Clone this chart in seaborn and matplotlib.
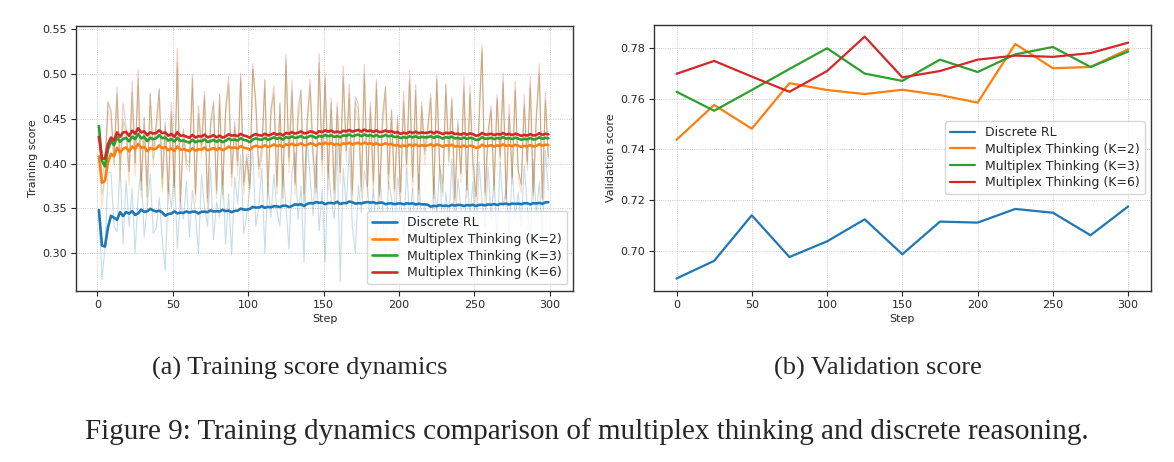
import numpy as np
import pandas as pd
import matplotlib
matplotlib.use("Agg")
import matplotlib.pyplot as plt
import seaborn as sns

# -----------------------------
# Data
# -----------------------------
train_steps = np.arange(1, 301, 2)

# raw training scores (x1000), one value every 2 steps
discrete_raw = [
    348, 270, 305, 390, 390, 330, 324, 400, 310, 381,
    330, 372, 300, 365, 395, 318, 352, 388, 322, 328,
    362, 315, 280, 378, 350, 392, 305, 360, 338, 380,
    318, 370, 345, 300, 388, 352, 330, 395, 315, 357,
    340, 392, 310, 366, 298, 385, 355, 410, 322, 342,
    372, 418, 330, 352, 395, 300, 378, 340, 388, 347,
    330, 398, 352, 305, 390, 412, 338, 375, 290, 430,
    385, 342, 410, 325, 372, 290, 398, 360, 338, 420,
    268, 395, 352, 418, 330, 300, 376, 345, 392, 374,
    335, 372, 310, 388, 352, 298, 380, 362, 318, 385,
    360, 318, 395, 340, 372, 305, 388, 330, 352, 340,
    272, 385, 342, 398, 315, 368, 330, 405, 322, 383,
    350, 312, 392, 340, 380, 300, 402, 358, 330, 396,
    338, 385, 310, 402, 352, 372, 318, 395, 340, 368,
    330, 398, 352, 310, 405, 342, 380, 318, 415, 370,
]
k2_raw = [
    408, 350, 385, 460, 447, 395, 470, 380, 445, 430,
    376, 471, 386, 486, 361, 436, 354, 464, 396, 430,
    473, 368, 438, 355, 453, 363, 513, 347, 425, 395,
    391, 484, 356, 451, 406, 471, 346, 438, 456, 361,
    467, 360, 452, 484, 374, 437, 387, 492, 365, 402,
    368, 506, 461, 384, 406, 484, 360, 451, 474, 366,
    455, 355, 510, 390, 475, 365, 445, 470, 350, 435,
    480, 395, 360, 505, 385, 487, 370, 460, 353, 455,
    377, 490, 402, 472, 352, 462, 447, 362, 494, 362,
    456, 363, 483, 350, 438, 473, 370, 448, 356, 443,
    356, 463, 388, 488, 368, 476, 353, 458, 398, 432,
    468, 350, 490, 383, 363, 478, 398, 463, 348, 439,
    379, 481, 361, 474, 389, 353, 439, 534, 354, 426,
    457, 362, 470, 397, 488, 352, 452, 377, 480, 385,
    367, 462, 392, 484, 354, 447, 497, 352, 467, 398,
]
k3_raw = [
    442, 365, 385, 470, 460, 400, 478, 392, 450, 438,
    391, 480, 401, 495, 370, 452, 363, 479, 405, 445,
    484, 373, 443, 366, 458, 374, 507, 358, 436, 400,
    396, 495, 367, 456, 417, 476, 357, 443, 467, 366,
    478, 365, 463, 489, 385, 442, 398, 497, 376, 407,
    372, 505, 471, 394, 410, 494, 364, 461, 478, 376,
    467, 361, 516, 402, 481, 377, 451, 482, 356, 447,
    488, 409, 368, 513, 399, 495, 384, 468, 367, 463,
    390, 497, 415, 479, 365, 469, 460, 369, 501, 375,
    463, 376, 490, 363, 445, 486, 377, 461, 369, 450,
    368, 469, 400, 494, 380, 482, 365, 464, 410, 438,
    473, 361, 495, 394, 368, 489, 403, 474, 359, 444,
    389, 485, 371, 478, 399, 363, 443, 530, 364, 436,
    460, 371, 473, 406, 491, 361, 455, 386, 483, 394,
    377, 466, 402, 488, 364, 451, 501, 362, 471, 408,
]
k6_raw = [
    430, 382, 405, 468, 457, 410, 485, 400, 468, 441,
    391, 492, 400, 505, 381, 451, 375, 478, 415, 444,
    483, 384, 447, 369, 468, 373, 529, 356, 439, 404,
    401, 500, 365, 465, 421, 481, 362, 447, 470, 370,
    477, 376, 461, 498, 389, 447, 403, 501, 379, 411,
    377, 512, 469, 397, 420, 493, 375, 459, 487, 374,
    468, 374, 522, 407, 493, 378, 464, 482, 367, 447,
    494, 415, 373, 523, 404, 501, 390, 473, 371, 468,
    390, 509, 414, 489, 370, 475, 466, 374, 511, 374,
    468, 381, 494, 366, 455, 485, 388, 459, 372, 454,
    368, 481, 399, 504, 385, 488, 371, 469, 414, 443,
    478, 366, 499, 397, 378, 488, 414, 472, 362, 448,
    389, 497, 370, 488, 404, 363, 455, 525, 368, 435,
    465, 376, 477, 409, 501, 360, 466, 384, 492, 392,
    376, 477, 400, 497, 368, 456, 512, 360, 480, 406,
]

val_steps = [0, 25, 50, 75, 100, 125, 150, 175, 200, 225, 250, 275, 300]
discrete_val = [0.689, 0.696, 0.714, 0.6975, 0.7037, 0.7124, 0.6986, 0.7115,
                0.7111, 0.7165, 0.7150, 0.7061, 0.7175]
k2_val = [0.7438, 0.7576, 0.7482, 0.7662, 0.7635, 0.7619, 0.7636, 0.7615,
          0.7585, 0.7817, 0.7721, 0.7726, 0.7796]
k3_val = [0.7628, 0.7553, 0.7635, 0.7718, 0.7800, 0.7700, 0.7671, 0.7755,
          0.7706, 0.7776, 0.7805, 0.7726, 0.7787]
k6_val = [0.7699, 0.7750, 0.7688, 0.7628, 0.7710, 0.7846, 0.7685, 0.7710,
          0.7755, 0.7771, 0.7766, 0.7781, 0.7822]

labels = ["Discrete RL", "Multiplex Thinking (K=2)",
          "Multiplex Thinking (K=3)", "Multiplex Thinking (K=6)"]
colors = ["#1f77b4", "#ff7f0e", "#2ca02c", "#d62728"]

# -----------------------------
# Style
# -----------------------------
sns.set_theme(style="ticks")
plt.rcParams["font.family"] = ["DejaVu Sans"]
plt.rcParams["axes.edgecolor"] = "#333333"
plt.rcParams["axes.linewidth"] = 1.0

fig = plt.figure(figsize=(11.74, 4.62), dpi=100)
ax1 = fig.add_axes([0.065, 0.3708, 0.4233, 0.5729])
ax2 = fig.add_axes([0.557, 0.3708, 0.4232, 0.5757])

# -----------------------------
# (a) Training score dynamics
# -----------------------------
raw_series = [discrete_raw, k2_raw, k3_raw, k6_raw]
for raw, lab, col in zip(raw_series, labels, colors):
    y = pd.Series(raw) / 1000.0
    sns.lineplot(x=train_steps, y=y.values, ax=ax1, color=col, alpha=0.25,
                 linewidth=0.8, errorbar=None)
for raw, lab, col in zip(raw_series, labels, colors):
    y = pd.Series(raw) / 1000.0
    smooth = y.ewm(alpha=0.025, adjust=True).mean()
    sns.lineplot(x=train_steps, y=smooth.values, ax=ax1, color=col,
                 linewidth=1.9, label=lab, errorbar=None)

ax1.set_xlim(-14, 315.5)
ax1.set_ylim(0.258, 0.5537)
ax1.set_yticks([0.30, 0.35, 0.40, 0.45, 0.50, 0.55])
ax1.set_xticks([0, 50, 100, 150, 200, 250, 300])
ax1.set_xlabel("Step", fontsize=8, labelpad=3)
ax1.set_ylabel("Training score", fontsize=8, labelpad=3)
ax1.legend(loc="lower right", fontsize=9, framealpha=0.8, borderpad=0.4,
           handlelength=2.0, labelspacing=0.3)

# -----------------------------
# (b) Validation score
# -----------------------------
val_series = [discrete_val, k2_val, k3_val, k6_val]
for vals, lab, col in zip(val_series, labels, colors):
    sns.lineplot(x=val_steps, y=vals, ax=ax2, color=col, linewidth=1.6,
                 label=lab, errorbar=None)

ax2.set_xlim(-15, 315)
ax2.set_ylim(0.6842, 0.7893)
ax2.set_yticks([0.70, 0.72, 0.74, 0.76, 0.78])
ax2.set_yticklabels(["0.70", "0.72", "0.74", "0.76", "0.78"])
ax2.set_xticks([0, 50, 100, 150, 200, 250, 300])
ax2.set_xlabel("Step", fontsize=8, labelpad=3)
ax2.set_ylabel("Validation score", fontsize=8, labelpad=3)
ax2.legend(loc="center right", fontsize=9, framealpha=0.8, borderpad=0.4,
           handlelength=2.0, labelspacing=0.3)

for ax in (ax1, ax2):
    ax.grid(True, linestyle=":", linewidth=0.6, color="#bbbbbb")
    ax.tick_params(labelsize=8, length=3.5, width=0.8, pad=3)
    for s in ax.spines.values():
        s.set_visible(True)

# -----------------------------
# Captions
# -----------------------------
serif = ["Liberation Serif", "DejaVu Serif"]
fig.text(0.2555, 0.2035, "(a) Training score dynamics", ha="center",
         va="center", fontsize=19, family=serif)
fig.text(0.748, 0.2035, "(b) Validation score", ha="center",
         va="center", fontsize=19, family=serif)
fig.text(0.5, 0.065, "Figure 9: Training dynamics comparison of multiplex "
         "thinking and discrete reasoning.", ha="center", va="center",
         fontsize=21, family=serif)

fig.savefig("out.png", dpi=100)
